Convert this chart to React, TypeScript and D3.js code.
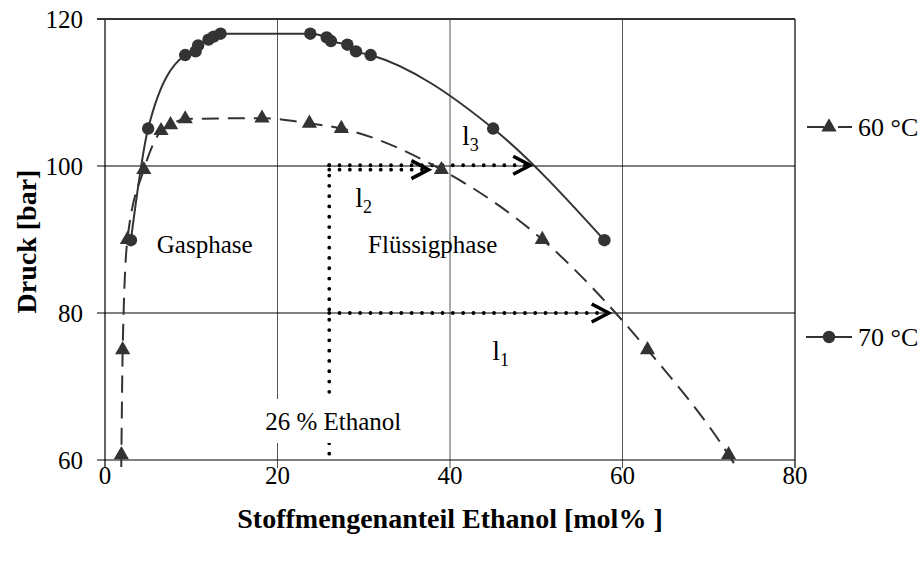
import React from "react";
import * as d3 from "d3";

// Phase envelope CO2 / ethanol: pressure vs. ethanol mole fraction
const ethanol60 = [1.85, 1.9, 2.05, 2.6, 4.5, 6.5, 7.6, 9.3, 18.2, 23.7, 27.4, 39.0, 50.7, 62.9, 72.3, 75.8];
const druck60 = [55, 60.7, 75, 90, 99.5, 104.8, 105.6, 106.4, 106.5, 105.8, 105.1, 99.5, 90, 75, 60.7, 54];

const ethanol70 = [3.0, 5.0, 9.3, 10.5, 10.8, 12.0, 12.6, 13.4, 23.8, 25.7, 26.2, 28.1, 29.1, 30.8, 45.0, 57.9];
const druck70 = [89.9, 105.1, 115.1, 115.6, 116.4, 117.2, 117.6, 118.0, 118.0, 117.5, 117.0, 116.5, 115.6, 115.1, 105.1, 89.9];

const xTicks = [0, 20, 40, 60, 80];
const yTicks = [60, 80, 100, 120];

// feed composition and tie lines
const feedEthanol = 26;
const tieNames = ["1", "2", "3"];
const tiePressure = [80, 99.5, 100.1];
const tieEnd = [58.4, 37.5, 49.3];

const W = 924;
const H = 561;
const left = 105;
const right = 795;
const top = 19;
const bottom = 460;

const FONT = "'Liberation Serif', 'Times New Roman', serif";
const INK = "#333";

export default function App() {
  const x = d3.scaleLinear().domain([0, 80]).range([left, right]);
  const y = d3.scaleLinear().domain([60, 120]).range([bottom, top]);

  const pts60 = ethanol60.map((e, i) => [x(e), y(druck60[i])] as [number, number]);
  const pts70 = ethanol70.map((e, i) => [x(e), y(druck70[i])] as [number, number]);

  const line = d3.line().curve(d3.curveMonotoneX);

  const tri = d3.symbol().type(d3.symbolTriangle).size(100)();
  const dotted = { stroke: "#000", strokeWidth: 3.8, strokeDasharray: "0 10.3", strokeLinecap: "round" as const, fill: "none" };

  const xf = x(feedEthanol);

  const arrow = (tx: number, ty: number) => (
    <path d={`M${tx - 17},${ty - 9} L${tx},${ty} L${tx - 17},${ty + 9}`} fill="none" stroke="#000" strokeWidth={3.6} strokeLinejoin="miter" />
  );

  return (
    <svg width={W} height={H} style={{ position: "absolute", left: 0, top: 0, background: "#fff" }} fontFamily={FONT}>
      <defs>
        <clipPath id="plotClip">
          <rect x={left} y={top} width={right - left} height={bottom - top + 7} />
        </clipPath>
      </defs>

      {/* grid */}
      {xTicks.map((t) => (
        <line key={"gx" + t} x1={x(t)} x2={x(t)} y1={top} y2={bottom + 8} stroke={t === 0 || t === 80 ? "#000" : "#555"} strokeWidth={t === 0 || t === 80 ? 1.2 : 1} />
      ))}
      {yTicks.map((t) => (
        <line key={"gy" + t} x1={left - 8} x2={right} y1={y(t)} y2={y(t)} stroke={t === 120 ? "#333" : "#000"} strokeWidth={t === 120 ? 1.8 : 1} />
      ))}

      {/* tick labels */}
      {yTicks.map((t) => (
        <text key={"ly" + t} x={83} y={y(t)} dy="0.35em" textAnchor="end" fontSize={25} fill="#000">{t}</text>
      ))}
      {xTicks.map((t) => (
        <text key={"lx" + t} x={x(t)} y={484} textAnchor="middle" fontSize={25} fill="#000">{t}</text>
      ))}

      {/* axis titles */}
      <text x={450} y={528} textAnchor="middle" fontSize={28} fontWeight="bold" fill="#000">Stoffmengenanteil Ethanol [mol% ]</text>
      <text transform={`translate(36,${(top + bottom) / 2 + 2}) rotate(-90)`} textAnchor="middle" fontSize={28} fontWeight="bold" fill="#000">Druck [bar]</text>

      {/* feed line and tie lines */}
      <line x1={xf} x2={xf} y1={y(tiePressure[2])} y2={bottom} {...dotted} />
      {tieNames.map((n, i) => (
        <g key={"tie" + n}>
          <line x1={xf} x2={x(tieEnd[i]) - 4} y1={y(tiePressure[i])} y2={y(tiePressure[i])} {...dotted} />
          {arrow(x(tieEnd[i]), y(tiePressure[i]))}
        </g>
      ))}

      {/* feed label */}
      <rect x={xf - 72} y={399} width={152} height={44} fill="#fff" />
      <text x={xf + 4} y={430} textAnchor="middle" fontSize={25} fill="#000">26 % Ethanol</text>

      {/* region labels */}
      <text x={x(6)} y={253} fontSize={25} fill="#000">Gasphase</text>
      <text x={x(30.5)} y={253} fontSize={25} fill="#000">Flüssigphase</text>

      {/* tie line names */}
      <text x={x(29)} y={207} fontSize={28} fill="#000">l<tspan fontSize={18} dy={6}>2</tspan></text>
      <text x={x(41.4)} y={145} fontSize={28} fill="#000">l<tspan fontSize={18} dy={6}>3</tspan></text>
      <text x={x(44.9)} y={360} fontSize={28} fill="#000">l<tspan fontSize={18} dy={6}>1</tspan></text>

      {/* series */}
      <g clipPath="url(#plotClip)">
        <path d={line(pts60) || ""} fill="none" stroke={INK} strokeWidth={2} strokeDasharray="17 9" />
        <path d={line(pts70) || ""} fill="none" stroke={INK} strokeWidth={2} />
        {pts60.map(([px, py], i) => (
          <path key={"m60" + i} d={tri || ""} transform={`translate(${px},${py})`} fill={INK} />
        ))}
        {pts70.map(([px, py], i) => (
          <circle key={"m70" + i} cx={px} cy={py} r={6.2} fill={INK} />
        ))}
      </g>

      {/* legend */}
      <g>
        <line x1={807} x2={824} y1={127} y2={127} stroke={INK} strokeWidth={2} />
        <line x1={838} x2={852} y1={127} y2={127} stroke={INK} strokeWidth={2} />
        <path d={tri || ""} transform="translate(829,127)" fill={INK} />
        <text x={858} y={127} dy="0.35em" fontSize={26} fill="#000">60 °C</text>
        <line x1={806} x2={852} y1={337} y2={337} stroke={INK} strokeWidth={2} />
        <circle cx={829} cy={337} r={6.2} fill={INK} />
        <text x={858} y={337} dy="0.35em" fontSize={26} fill="#000">70 °C</text>
      </g>
    </svg>
  );
}
